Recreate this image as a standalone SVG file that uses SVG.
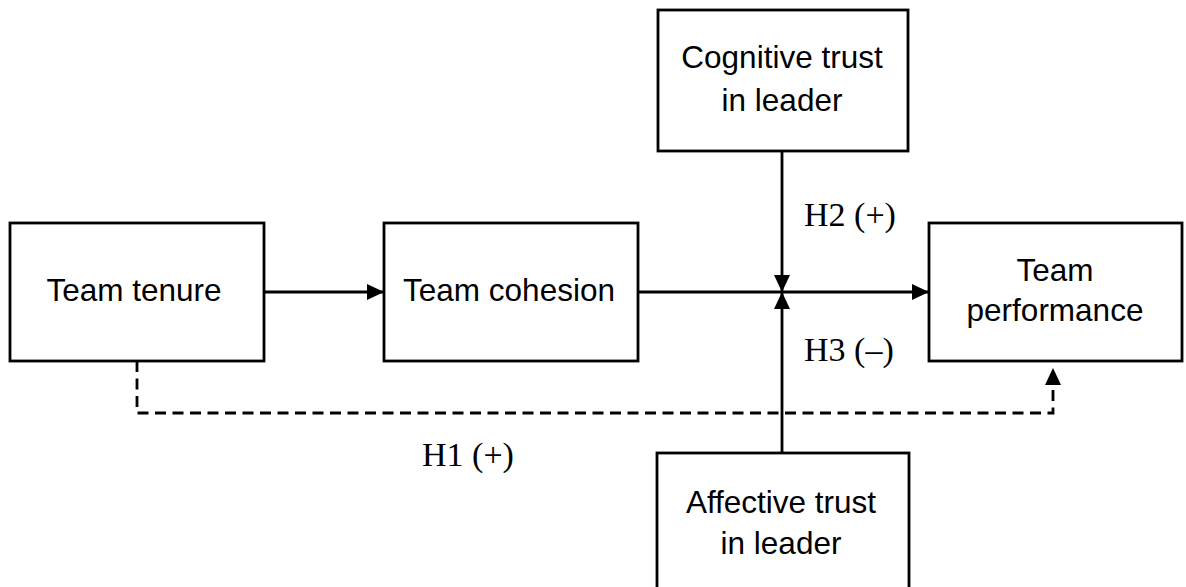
<svg xmlns="http://www.w3.org/2000/svg" width="1186" height="587" viewBox="0 0 1186 587">
<style>
.box{fill:#fff;stroke:#000;stroke-width:2.8}
.lbl{font-family:"Liberation Sans",Arial,sans-serif;font-size:31.5px;fill:#000;text-anchor:middle}
.hyp{font-family:"Liberation Serif","Times New Roman",serif;font-size:34px;fill:#000}
.ln{fill:none;stroke:#000;stroke-width:2.8}
.dash{stroke-dasharray:11 6.5}
</style>
<defs>
<marker id="ah" markerUnits="userSpaceOnUse" markerWidth="17" markerHeight="17" viewBox="0 0 17 17" refX="17" refY="8.5" orient="auto">
<path d="M0,0.5 L17,8.5 L0,16.5 Z" fill="#000"/>
</marker>
</defs>
<rect width="1186" height="587" fill="#fff"/>
<g id="connectors">
<line class="ln" x1="264" y1="292" x2="384" y2="292" marker-end="url(#ah)"/>
<line class="ln" x1="638" y1="292" x2="929" y2="292" marker-end="url(#ah)"/>
<line class="ln" x1="782" y1="151" x2="782" y2="292" marker-end="url(#ah)"/>
<line class="ln" x1="782" y1="453" x2="782" y2="292" marker-end="url(#ah)"/>
<path class="ln dash" d="M137,361 V413 H1053 V368" marker-end="url(#ah)"/>
<text class="hyp" x="804" y="226">H2 (+)</text>
<text class="hyp" x="804" y="361">H3 (–)</text>
<text class="hyp" x="422" y="466">H1 (+)</text>
</g>
<g id="team-tenure">
<rect class="box" x="10" y="223" width="254" height="138"/>
<text class="lbl" x="134" y="301">Team tenure</text>
</g>
<g id="team-cohesion">
<rect class="box" x="384" y="223" width="254" height="138"/>
<text class="lbl" x="509" y="301">Team cohesion</text>
</g>
<g id="cognitive-trust">
<rect class="box" x="658" y="10" width="250" height="141"/>
<text class="lbl" x="782" y="68">Cognitive trust</text>
<text class="lbl" x="782" y="111">in leader</text>
</g>
<g id="team-performance">
<rect class="box" x="929" y="223" width="253" height="138"/>
<text class="lbl" x="1055" y="281">Team</text>
<text class="lbl" x="1055" y="321">performance</text>
</g>
<g id="affective-trust">
<rect class="box" x="657" y="453" width="252" height="145"/>
<text class="lbl" x="781" y="513">Affective trust</text>
<text class="lbl" x="781" y="554">in leader</text>
</g>
</svg>
